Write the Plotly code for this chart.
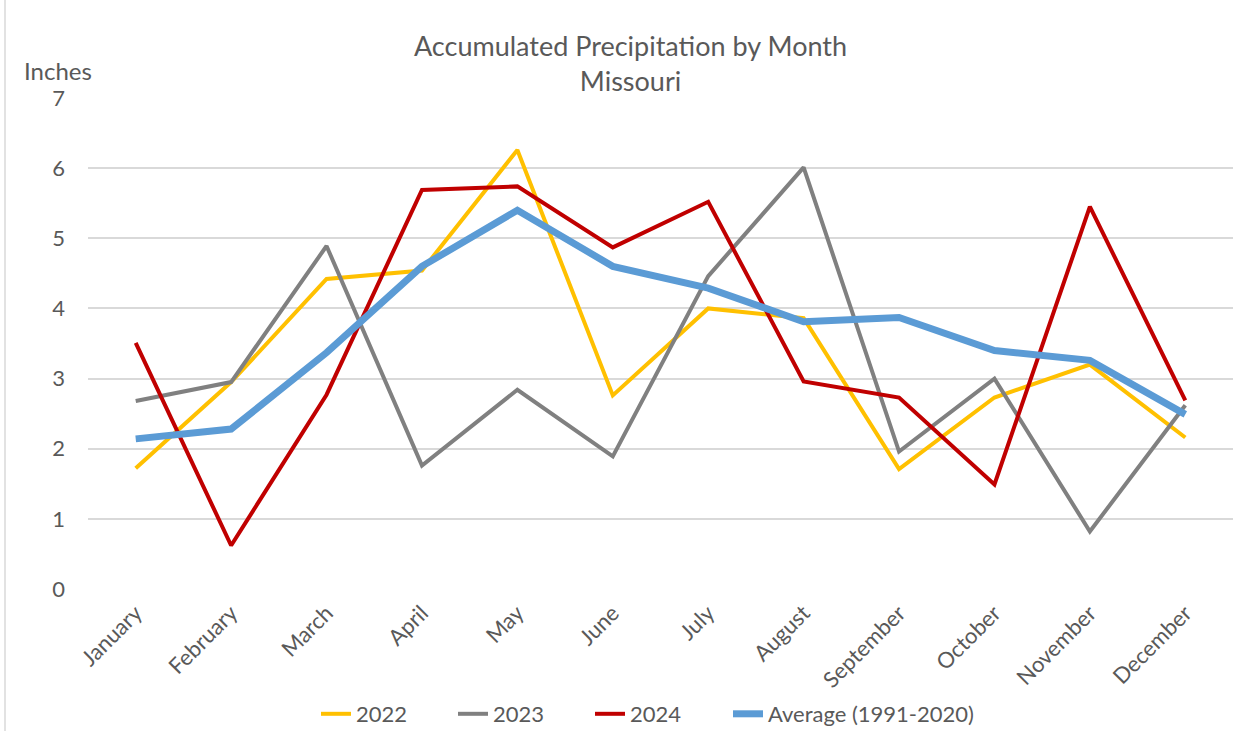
import plotly.graph_objects as go

months = ["January", "February", "March", "April", "May", "June",
          "July", "August", "September", "October", "November", "December"]
y2022 = [1.72, 2.95, 4.42, 4.54, 6.26, 2.76, 4.00, 3.86, 1.71, 2.73, 3.20, 2.16]
y2023 = [2.68, 2.95, 4.89, 1.76, 2.84, 1.89, 4.46, 6.01, 1.96, 3.00, 0.82, 2.62]
y2024 = [3.51, 0.62, 2.77, 5.69, 5.74, 4.87, 5.52, 2.96, 2.73, 1.49, 5.45, 2.69]
yavg = [2.14, 2.28, 3.37, 4.60, 5.40, 4.60, 4.29, 3.81, 3.87, 3.40, 3.26, 2.49]

series = [
    ("2022", y2022, "#FFC000", 4),
    ("2023", y2023, "#808080", 4),
    ("2024", y2024, "#C00000", 4),
    ("Average (1991-2020)", yavg, "#5B9BD5", 7),
]
legend_text_x = [358, 495, 632, 770]  # pixel x where each legend label starts

FONT = "Lato"
TXT = "#595959"
PL, PW = 88, 1145

fig = go.Figure()
legends = {}
for i, (name, vals, color, w) in enumerate(series):
    lname = "legend" if i == 0 else f"legend{i + 1}"
    fig.add_trace(go.Scatter(x=months, y=vals, name=name, mode="lines",
                             line=dict(color=color, width=w), legend=lname))
    legends[lname] = dict(orientation="h", xref="paper",
                          x=(legend_text_x[i] - 42 - PL) / PW, xanchor="left",
                          yref="container", y=1 - 714 / 731, yanchor="middle",
                          font=dict(family=FONT, size=22, color=TXT),
                          bgcolor="rgba(0,0,0,0)")

fig.update_layout(
    width=1251, height=731,
    margin=dict(l=PL, r=18, t=98, b=142, autoexpand=False),
    paper_bgcolor="white", plot_bgcolor="white",
    font=dict(family=FONT, color=TXT, size=22),
    title=dict(text="Accumulated Precipitation by Month<br>Missouri",
               x=0.504, xref="container", xanchor="center",
               y=1 - 56 / 731, yref="container", yanchor="middle",
               font=dict(family=FONT, size=27, color=TXT)),
    showlegend=True,
    xaxis=dict(type="category", range=[-0.5, 11.5], showgrid=False, automargin=False,
               showline=False, zeroline=False, ticks="", ticklabelstandoff=6,
               tickangle=-45, tickfont=dict(family=FONT, size=22, color=TXT)),
    yaxis=dict(range=[0, 7], dtick=1, showgrid=True, gridcolor="#D9D9D9", automargin=False,
               gridwidth=1.5, zeroline=False, showline=False, ticks="",
               tickfont=dict(family=FONT, size=22, color=TXT), ticklabelstandoff=22),
    **legends,
)

fig.add_annotation(text="Inches", xref="paper", yref="paper",
                   x=(22 - PL) / PW, y=1 + 28 / 491, xanchor="left", yanchor="middle",
                   showarrow=False, font=dict(family=FONT, size=24, color=TXT))

fig.add_shape(type="line", xref="paper", yref="paper",
              x0=(5 - PL) / PW, x1=(5 - PL) / PW, y0=-142 / 491, y1=1 + 98 / 491,
              line=dict(color="#D9D9D9", width=1.5))

fig.write_html("out.html", config={"displayModeBar": False},
               post_script="document.body.style.margin='0';document.body.style.overflow='hidden';")
